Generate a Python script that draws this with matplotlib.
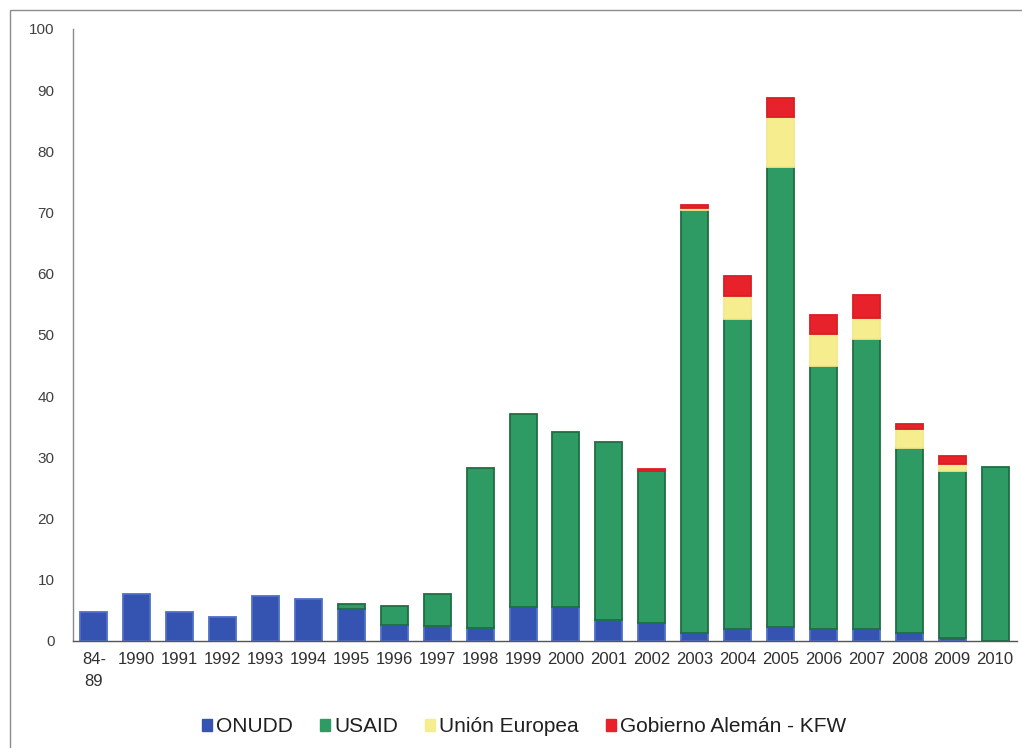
import matplotlib
matplotlib.use("Agg")
import matplotlib.pyplot as plt
from matplotlib.patches import Rectangle
import numpy as np

plt.rcParams['font.family'] = ['Liberation Sans', 'DejaVu Sans']

categories = ["84-\n89", "1990", "1991", "1992", "1993", "1994", "1995", "1996",
              "1997", "1998", "1999", "2000", "2001", "2002", "2003", "2004",
              "2005", "2006", "2007", "2008", "2009", "2010"]
onudd = [4.8, 7.7, 4.8, 3.9, 7.3, 6.9, 5.2, 2.6, 2.5, 2.2, 5.5, 5.5, 3.5, 3.0,
         1.3, 2.0, 2.3, 2.0, 2.0, 1.3, 0.5, 0.0]
usaid = [0.0, 0.0, 0.0, 0.0, 0.0, 0.0, 0.8, 3.2, 5.2, 26.0, 31.6, 28.6, 29.0, 24.7,
         69.2, 50.6, 75.1, 43.0, 47.3, 30.2, 27.3, 28.5]
union_europea = [0, 0, 0, 0, 0, 0, 0, 0, 0, 0, 0, 0, 0, 0.0,
                 0.3, 3.8, 8.2, 5.1, 3.4, 3.2, 1.2, 0.0]
kfw = [0, 0, 0, 0, 0, 0, 0, 0, 0, 0, 0, 0, 0, 0.4,
       0.5, 3.2, 3.2, 3.2, 3.9, 0.8, 1.2, 0.0]
series_names = ["ONUDD", "USAID", "Unión Europea", "Gobierno Alemán - KFW"]

fill_colors = ["#3553B0", "#2E9A64", "#F6EE8E", "#E8222A"]
edge_colors = ["#4F6FC8", "#1F6E42", "#F3E88A", "#D81E24"]

fig = plt.figure(figsize=(10.22, 7.48), dpi=100)
fig.patch.set_facecolor("white")
ax = fig.add_axes([72.5 / 1022, 1 - 641 / 748, (1016.5 - 72.5) / 1022, (641 - 29) / 748])

x = np.arange(len(categories))
bottom = np.zeros(len(categories))
handles = []
for vals, name, fc, ec in zip([onudd, usaid, union_europea, kfw], series_names,
                              fill_colors, edge_colors):
    vals = np.array(vals, dtype=float)
    # no outline on empty segments
    lw = np.where(vals > 0, 1.3, 0.0)
    bars = ax.bar(x, vals, width=0.63, bottom=bottom, color=fc, edgecolor=ec,
                  linewidth=lw, label=name, zorder=2)
    bottom += vals
    handles.append(bars)

ax.set_xlim(-0.5, len(categories) - 0.5)
ax.set_ylim(0, 100)
ax.set_yticks(np.arange(0, 101, 10))
ax.set_xticks(x)
ax.set_xticklabels(categories)
ax.tick_params(axis='y', length=0, pad=13, labelsize=11, labelcolor="#404040")
ax.tick_params(axis='x', length=0, pad=8, labelsize=12, labelcolor="#303030")
for lbl in ax.get_xticklabels():
    lbl.set_verticalalignment('top')
    lbl.set_linespacing(1.55)

for side in ["top", "right"]:
    ax.spines[side].set_visible(False)
ax.spines["left"].set_color("#8a8a8a")
ax.spines["left"].set_linewidth(1.0)
ax.spines["bottom"].set_color("#555555")
ax.spines["bottom"].set_linewidth(1.0)
ax.spines["bottom"].set_linestyle((0, (2, 1)))

legend_handles = [Rectangle((0, 0), 1, 1, facecolor=fc, edgecolor=fc)
                  for fc in fill_colors]
leg = fig.legend(handles=legend_handles, labels=series_names, loc="center",
                 bbox_to_anchor=(524 / 1022, 1 - 727 / 748), ncol=4, frameon=False,
                 fontsize=15, handlelength=0.48, handleheight=0.48,
                 handletextpad=0.2, columnspacing=1.3, labelcolor="#202020")

# outer chart frame
fig.patches.append(Rectangle((10 / 1022, -0.01), 1.02 - 10 / 1022, 1 - 10 / 748 + 0.01,
                             transform=fig.transFigure, fill=False,
                             edgecolor="#8c8c8c", linewidth=1.0))

fig.savefig("out.png", dpi=100, facecolor="white")
